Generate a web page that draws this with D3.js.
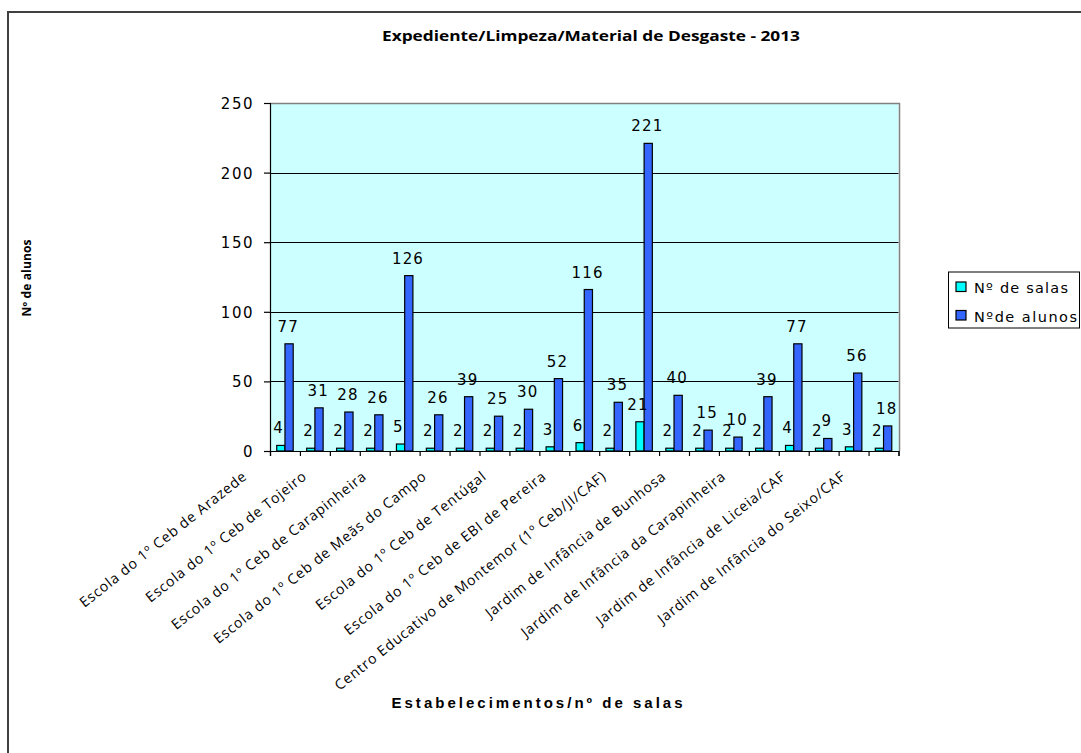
<!DOCTYPE html>
<html>
<head>
<meta charset="utf-8">
<script src="https://cdn.jsdelivr.net/npm/d3@7"></script>
<style>
  body { margin: 0; background: #fff; }
  text { fill: #000; }
</style>
</head>
<body>
<script>
//svg size
const c_width = 1081;
const c_height = 753;

//categories (Excel only prints every second label, hidden ones left blank)
const categories = [
  "Escola do 1º Ceb de Arazede", "",
  "Escola do 1º Ceb de Tojeiro", "",
  "Escola do 1º Ceb de Carapinheira", "",
  "Escola do 1º Ceb de Meãs do Campo", "",
  "Escola do 1º Ceb de Tentúgal", "",
  "Escola do 1º Ceb de EBI de Pereira", "",
  "Centro Educativo de Montemor (1º Ceb/JI/CAF)", "",
  "Jardim de Infância de Bunhosa", "",
  "Jardim de Infância da Carapinheira", "",
  "Jardim de Infância de Liceia/CAF", "",
  "Jardim de Infância do Seixo/CAF"
];
const salas  = [4, 2, 2, 2, 5, 2, 2, 2, 2, 3, 6, 2, 21, 2, 2, 2, 2, 4, 2, 3, 2];
const alunos = [77, 31, 28, 26, 126, 26, 39, 25, 30, 52, 116, 35, 221, 40, 15, 10, 39, 77, 9, 56, 18];
const seriesNames = ["Nº de salas", "Nºde alunos"];
const seriesColors = ["#00ffff", "#3366ff"];
const yTicks = [0, 50, 100, 150, 200, 250];

const titleText = "Expediente/Limpeza/Material de Desgaste - 2013";
const xTitle = "Estabelecimentos/nº de salas";
const yTitle = "Nº de alunos";

//plot area
const plot = {left: 270, top: 103, right: 898.5, bottom: 451};

const svg = d3.select('body').append('svg')
  .attr('width', c_width)
  .attr('height', c_height);

svg.append('rect').attr('width', c_width).attr('height', c_height).attr('fill', '#fff');

//outer chart frame (runs off the right / bottom of the picture)
svg.append('rect')
  .attr('x', 8).attr('y', 12)
  .attr('width', c_width + 20).attr('height', c_height + 20)
  .attr('fill', 'none')
  .attr('stroke', '#404040')
  .attr('stroke-width', 2);

//scales
const idx = d3.range(categories.length);
const x0 = d3.scaleBand()
  .domain(idx)
  .range([plot.left, plot.right])
  .paddingInner(0.45)
  .paddingOuter(0.225);
const x1 = d3.scaleBand()
  .domain([0, 1])
  .range([0, x0.bandwidth()]);
const xEdge = d3.scaleLinear()
  .domain([0, categories.length])
  .range([plot.left, plot.right]);
const y = d3.scaleLinear()
  .domain([0, 250])
  .range([plot.bottom, plot.top]);

//plot background
svg.append('rect')
  .attr('x', plot.left).attr('y', plot.top)
  .attr('width', plot.right - plot.left)
  .attr('height', plot.bottom - plot.top)
  .attr('fill', '#ccffff');

//gridlines
svg.append('g')
  .selectAll('line')
  .data(yTicks.filter(d => d > 0 && d < 250))
  .enter()
  .append('line')
  .attr('x1', plot.left).attr('x2', plot.right)
  .attr('y1', d => Math.round(y(d)) + 0.5)
  .attr('y2', d => Math.round(y(d)) + 0.5)
  .attr('stroke', '#000')
  .attr('stroke-width', 1);

//top and right border of the plot area
svg.append('path')
  .attr('d', `M${plot.left},${Math.round(plot.top) + 0.5}H${Math.round(plot.right) + 0.5}V${plot.bottom}`)
  .attr('fill', 'none')
  .attr('stroke', '#808080')
  .attr('stroke-width', 1.5);

//bars
const groups = svg.append('g')
  .selectAll('g')
  .data(idx)
  .enter()
  .append('g')
  .attr('transform', i => `translate(${x0(i)},0)`);

const barData = i => [salas[i], alunos[i]].map((v, s) => ({v, s}));

groups.selectAll('rect')
  .data(barData)
  .enter()
  .append('rect')
  .attr('x', d => x1(d.s))
  .attr('y', d => y(d.v))
  .attr('width', x1.bandwidth())
  .attr('height', d => y(0) - y(d.v))
  .attr('fill', d => seriesColors[d.s])
  .attr('stroke', '#000')
  .attr('stroke-width', 1.2);

//value labels (Excel puts them a touch left of the bar centre)
groups.selectAll('text')
  .data(barData)
  .enter()
  .append('text')
  .attr('x', d => x1(d.s) + x1.bandwidth() / 2 + (d.s === 0 ? -2.1 : -0.8))
  .attr('y', d => y(d.v) - 12)
  .attr('text-anchor', 'middle')
  .style('font-family', 'DejaVu Sans')
  .style('font-size', '15px')
  .style('letter-spacing', '1.2px')
  .text(d => d.v);

//y axis
const yAxis = svg.append('g')
  .attr('transform', `translate(${plot.left},0)`)
  .call(d3.axisLeft(y).tickValues(yTicks).tickSize(6).tickPadding(10));
yAxis.selectAll('text')
  .style('font-family', 'DejaVu Sans')
  .style('font-size', '15px')
  .style('letter-spacing', '1.5px')
  .attr('dy', '0.36em');
yAxis.selectAll('line, path').attr('stroke', '#000').attr('stroke-width', 1.2);

//x axis, ticks between the groups
const xAxis = svg.append('g')
  .attr('transform', `translate(0,${plot.bottom})`)
  .call(d3.axisBottom(xEdge).tickValues(d3.range(categories.length + 1)).tickSize(5).tickFormat(''));
xAxis.selectAll('line, path').attr('stroke', '#000').attr('stroke-width', 1.2);

//category labels, sized so the longest one is ~342px like in the original
const catLabels = svg.append('g')
  .selectAll('text')
  .data(idx.filter(i => categories[i] !== ''))
  .enter()
  .append('text')
  .attr('text-anchor', 'end')
  .style('font-family', 'Open Sans')
  .style('font-size', '14px')
  .style('letter-spacing', '0.8px')
  .text(i => categories[i]);
const longest = d3.max(catLabels.nodes(), n => n.getComputedTextLength());
const k = 342 / longest;
catLabels
  .style('font-size', (14 * k) + 'px')
  .style('letter-spacing', (0.8 * k) + 'px')
  .attr('transform', i => `translate(${x0(i) + x0.bandwidth() / 2 - 37},${plot.bottom + 27}) rotate(-38.5)`);

//titles
svg.append('text')
  .attr('x', 591).attr('y', 41)
  .attr('text-anchor', 'middle')
  .attr('textLength', 418)
  .attr('lengthAdjust', 'spacingAndGlyphs')
  .style('font-family', 'Open Sans')
  .style('font-weight', 'bold')
  .style('font-size', '14px')
  .text(titleText);

svg.append('text')
  .attr('x', 537).attr('y', 708)
  .attr('text-anchor', 'middle')
  .attr('textLength', 291)
  .attr('lengthAdjust', 'spacing')
  .style('font-family', 'Liberation Sans')
  .style('font-weight', 'bold')
  .style('font-size', '15px')
  .text(xTitle);

svg.append('text')
  .attr('transform', 'translate(31,278) rotate(-90)')
  .attr('text-anchor', 'middle')
  .attr('textLength', 77)
  .attr('lengthAdjust', 'spacing')
  .style('font-family', 'Open Sans')
  .style('font-weight', 'bold')
  .style('font-size', '12px')
  .text(yTitle);

//legend
const legend = svg.append('g').attr('transform', 'translate(948.5,272)');
legend.append('rect')
  .attr('width', 131).attr('height', 56)
  .attr('fill', '#fff')
  .attr('stroke', '#000')
  .attr('stroke-width', 1);
const items = legend.selectAll('g.item')
  .data(seriesNames)
  .enter()
  .append('g')
  .attr('class', 'item')
  .attr('transform', (d, i) => `translate(0,${10 + i * 28.5})`);
items.append('rect')
  .attr('x', 7.5).attr('y', 0)
  .attr('width', 10).attr('height', 9.5)
  .attr('fill', (d, i) => seriesColors[i])
  .attr('stroke', '#000')
  .attr('stroke-width', 1.2);
items.append('text')
  .attr('x', 25.5).attr('y', 11)
  .attr('textLength', (d, i) => i === 0 ? 94 : 103)
  .attr('lengthAdjust', 'spacing')
  .style('font-family', 'DejaVu Sans')
  .style('font-size', '14.5px')
  .text(d => d);
</script>
</body>
</html>
